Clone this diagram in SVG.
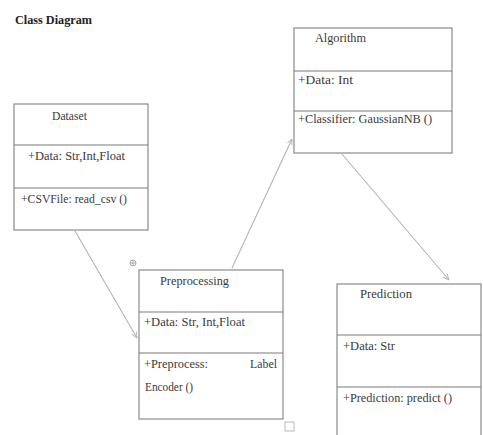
<svg xmlns="http://www.w3.org/2000/svg" width="483" height="435" viewBox="0 0 483 435">
<defs>
<style>
.box{fill:#fff;stroke:#8a8a8a;stroke-width:1.2}
.div{stroke:#7a7a7a;stroke-width:1.2}
.t{font-family:'Liberation Serif','DejaVu Serif',serif;font-size:12.5px;fill:#3a3a3a}
.title{font-family:'Liberation Serif','DejaVu Serif',serif;font-size:12px;font-weight:bold;fill:#222}
.conn{stroke:#b4b4b4;stroke-width:1.1;fill:none}
</style>
<marker id="arr" viewBox="0 0 10 10" refX="9" refY="5" markerWidth="6" markerHeight="6" orient="auto">
<path d="M0,1 L9,5 L0,9" fill="none" stroke="#b4b4b4" stroke-width="1.4"/>
</marker>
</defs>
<rect width="483" height="435" fill="#fff"/>
<text class="title" x="15" y="24" textLength="77" lengthAdjust="spacingAndGlyphs">Class Diagram</text>

<g id="connectors">
<line class="conn" x1="75" y1="231" x2="137" y2="338" marker-end="url(#arr)"/>
<line class="conn" x1="232" y1="268" x2="292" y2="139" marker-end="url(#arr)"/>
<line class="conn" x1="342" y1="154" x2="449" y2="280" marker-end="url(#arr)"/>
</g>

<g id="dataset">
<rect class="box" x="14" y="104" width="134" height="126"/>
<line class="div" x1="14" y1="145" x2="148" y2="145"/>
<line class="div" x1="14" y1="188" x2="148" y2="188"/>
<text class="t" x="52" y="120" textLength="35" lengthAdjust="spacingAndGlyphs">Dataset</text>
<text class="t" x="28" y="160" textLength="97" lengthAdjust="spacingAndGlyphs">+Data:  Str,Int,Float</text>
<text class="t" x="21" y="203" textLength="106" lengthAdjust="spacingAndGlyphs">+CSVFile: read_csv ()</text>
</g>

<g id="algorithm">
<rect class="box" x="294" y="28" width="158" height="125"/>
<line class="div" x1="294" y1="71" x2="452" y2="71"/>
<line class="div" x1="294" y1="111" x2="452" y2="111"/>
<text class="t" x="315" y="42" textLength="51" lengthAdjust="spacingAndGlyphs">Algorithm</text>
<text class="t" x="298" y="84" textLength="55" lengthAdjust="spacingAndGlyphs">+Data:  Int</text>
<text class="t" x="298" y="123" textLength="134" lengthAdjust="spacingAndGlyphs">+Classifier: GaussianNB ()</text>
</g>

<g id="preprocessing">
<rect class="box" x="139" y="270" width="144" height="149"/>
<line class="div" x1="139" y1="312" x2="283" y2="312"/>
<line class="div" x1="139" y1="353" x2="283" y2="353"/>
<text class="t" x="160" y="285" textLength="69" lengthAdjust="spacingAndGlyphs">Preprocessing</text>
<text class="t" x="144" y="326" textLength="101" lengthAdjust="spacingAndGlyphs">+Data:  Str, Int,Float</text>
<text class="t" x="144" y="368" textLength="64" lengthAdjust="spacingAndGlyphs">+Preprocess:</text>
<text class="t" x="250" y="368" textLength="27" lengthAdjust="spacingAndGlyphs">Label</text>
<text class="t" x="145" y="391" textLength="48" lengthAdjust="spacingAndGlyphs">Encoder ()</text>
<circle cx="133" cy="263" r="3" fill="none" stroke="#999" stroke-width="0.8"/>
<path d="M130,263 H136 M133,260 V266" stroke="#999" stroke-width="0.8"/>
<rect x="285" y="422" width="9" height="9" fill="none" stroke="#aaa" stroke-width="0.8"/>
</g>

<g id="prediction">
<rect class="box" x="337" y="284" width="144" height="160"/>
<line class="div" x1="337" y1="335" x2="481" y2="335"/>
<line class="div" x1="337" y1="387" x2="481" y2="387"/>
<text class="t" x="360" y="298" textLength="52" lengthAdjust="spacingAndGlyphs">Prediction</text>
<text class="t" x="343" y="350" textLength="52" lengthAdjust="spacingAndGlyphs">+Data: Str</text>
<text class="t" x="343" y="402" textLength="109" lengthAdjust="spacingAndGlyphs">+Prediction: predict ()</text>
</g>
</svg>
